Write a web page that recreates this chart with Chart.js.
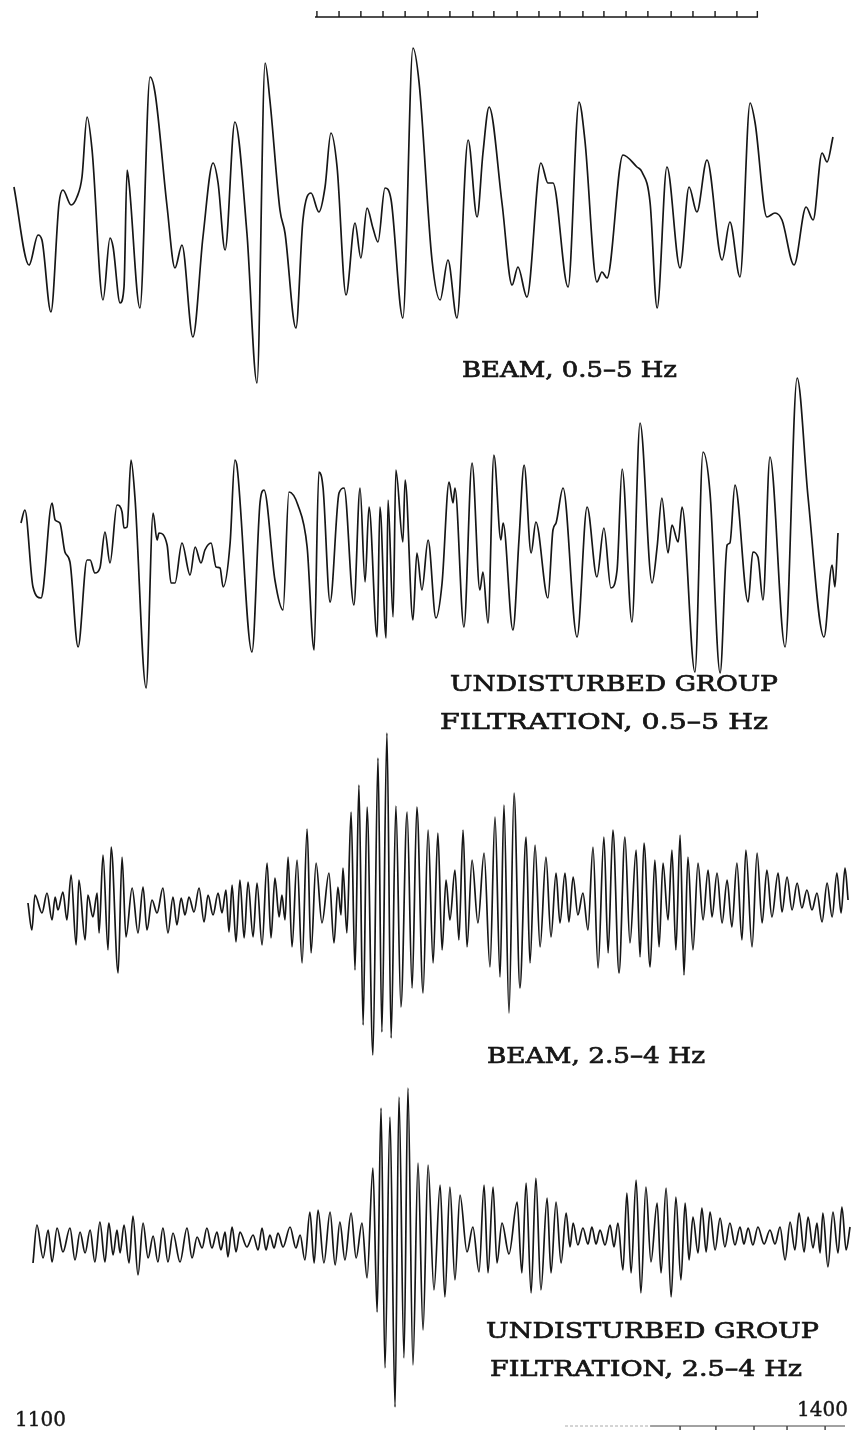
<!DOCTYPE html>
<html>
<head>
<meta charset="utf-8">
<style>
  html, body { margin: 0; padding: 0; background: #ffffff; }
  canvas { display: block; }
</style>
<script src="https://cdn.jsdelivr.net/npm/chart.js@4.4.1/dist/chart.umd.min.js"></script>
</head>
<body>
<canvas id="seis" width="856" height="1436"></canvas>
<script>
// Time axis: seconds, 1100 … 1400
const timeLabels = [1100, 1400];

// Each trace: [time (s), amplitude (relative units, up = positive)]
const beamBroad = [
  [1100.7,28],[1106.1,-50],[1109.3,-20],[1110.7,-25],[1113.9,-97],[1116.8,12],[1118.2,25],[1121.1,10],[1123.2,18],[1125.0,38],
  [1126.8,98],[1128.6,65],[1132.5,-85],[1135.0,-23],[1136.1,-32],[1138.6,-88],[1140.0,-72],[1141.1,45],[1141.8,32],[1145.7,-93],
  [1149.3,138],[1151.1,122],[1155.4,8],[1158.2,-53],[1160.7,-30],[1164.6,-122],[1168.2,-22],[1171.8,52],[1173.6,32],[1176.1,-35],
  [1179.6,93],[1183.9,-18],[1187.5,-168],[1190.4,152],[1192.1,115],[1195.7,5],[1197.5,-18],[1201.4,-113],[1203.9,-5],[1206.8,22],
  [1209.6,3],[1211.8,28],[1213.9,82],[1216.1,48],[1219.3,-80],[1222.5,-8],[1224.6,-43],[1226.8,7],[1228.9,-13],[1230.7,-27],
  [1233.2,27],[1235.4,15],[1239.6,-103],[1243.2,167],[1245.4,132],[1250.0,-45],[1252.9,-85],[1255.7,-45],[1258.9,-103],[1262.9,75],
  [1266.1,-2],[1268.2,62],[1270.4,108],[1275.0,12],[1278.6,-70],[1280.7,-52],[1283.9,-82],[1288.9,52],[1291.4,32],[1293.2,32],
  [1298.6,-72],[1302.5,113],[1304.6,75],[1308.9,-67],[1310.7,-57],[1312.5,-63],[1318.2,60],[1323.2,48],[1325.0,43],[1327.9,12],
  [1330.4,-93],[1333.9,48],[1338.6,-53],[1341.8,28],[1344.6,3],[1348.2,55],[1353.6,-45],[1356.4,-7],[1360.0,-62],[1363.6,112],
  [1365.4,92],[1369.6,-2],[1372.5,2],[1375.0,-5],[1379.3,-50],[1383.6,8],[1386.1,-5],[1389.3,62],[1391.1,53],[1393.2,78]
];

const groupBroad = [
  [1103.2,7],[1104.6,20],[1107.5,-57],[1110.4,-68],[1111.1,-60],[1114.3,27],[1115.4,10],[1117.1,7],[1118.9,-22],[1120.7,-32],
  [1123.6,-117],[1126.8,-30],[1127.9,-30],[1129.6,-43],[1131.4,-38],[1133.2,-2],[1135.0,-33],[1137.5,25],[1139.3,18],[1140.0,2],
  [1141.1,3],[1142.5,70],[1143.9,33],[1147.9,-158],[1150.4,17],[1151.8,-10],[1152.5,-3],[1155.4,-15],[1156.8,-53],[1158.2,-53],
  [1160.7,-13],[1163.6,-45],[1165.4,-17],[1167.5,-33],[1168.9,-20],[1171.1,-13],[1172.9,-37],[1174.3,-38],[1175.4,-57],[1177.9,-13],
  [1179.6,70],[1180.4,63],[1185.7,-122],[1188.6,28],[1190.0,40],[1193.9,-50],[1196.8,-80],[1198.9,38],[1202.1,25],[1205.4,-17],
  [1207.9,-120],[1209.6,58],[1211.1,42],[1213.6,-72],[1216.8,37],[1218.6,42],[1222.1,-75],[1224.3,42],[1226.1,-52],[1227.5,23],
  [1230.4,-107],[1231.4,23],[1233.6,-108],[1234.3,30],[1236.1,-87],[1237.1,60],[1239.6,-12],[1240.4,50],[1243.2,-90],[1244.6,-23],
  [1246.4,-60],[1248.6,-10],[1251.4,-88],[1253.6,-53],[1256.1,48],[1257.5,27],[1258.2,42],[1261.4,-97],[1264.3,67],[1267.1,-60],
  [1268.2,-42],[1270.0,-93],[1272.1,75],[1274.6,-10],[1275.4,7],[1278.9,-100],[1281.1,-8],[1282.9,65],[1285.4,-23],[1287.1,8],
  [1291.4,-68],[1293.2,0],[1294.3,7],[1296.8,42],[1301.8,-107],[1305.4,23],[1308.9,-47],[1311.4,2],[1313.9,-58],[1316.1,-40],
  [1317.9,61],[1321.4,-92],[1324.3,107],[1328.6,-53],[1330.4,-17],[1332.1,32],[1334.3,-23],[1335.7,5],[1337.9,-12],[1339.3,23],
  [1343.9,-142],[1346.8,78],[1349.3,37],[1352.9,-143],[1355.4,-15],[1356.4,-13],[1358.2,45],[1362.9,-72],[1364.6,-22],[1366.4,-27],
  [1368.2,-70],[1370.7,73],[1376.1,-117],[1380.4,152],[1384.3,33],[1390.0,-107],[1392.9,-35],[1393.9,-57],[1395.0,-3]
];

const beamNarrow = [
  [1105.7,2],[1107.1,-25],[1108.2,10],[1110.7,-8],[1112.5,12],[1114.3,-15],[1115.4,8],[1116.4,-5],[1118.2,13],[1119.6,-15],
  [1121.1,30],[1122.9,-40],[1123.9,25],[1126.1,-35],[1127.1,10],[1128.9,-12],[1130.4,12],[1131.1,-28],[1132.5,50],[1134.3,-45],
  [1135.4,58],[1137.9,-68],[1139.3,48],[1140.7,-32],[1142.9,17],[1145.0,-28],[1146.8,18],[1148.2,-25],[1150.0,5],[1151.8,-8],
  [1153.9,17],[1155.7,-28],[1157.5,8],[1158.9,-20],[1160.4,7],[1161.8,-10],[1163.2,8],[1165.0,-7],[1166.8,17],[1168.6,-17],
  [1170.0,10],[1171.8,-10],[1173.6,12],[1175.0,-8],[1176.4,15],[1177.5,-27],[1178.6,20],[1180.0,-37],[1181.4,25],[1182.9,-33],
  [1184.3,23],[1186.1,-32],[1187.5,22],[1189.3,-40],[1191.1,42],[1192.5,-33],[1193.9,27],[1195.4,-12],[1196.4,10],[1197.5,-15],
  [1198.6,48],[1200.0,-42],[1201.8,45],[1203.6,-58],[1205.4,76],[1206.8,-48],[1208.6,42],[1210.7,-18],[1213.2,32],[1215.0,-38],
  [1216.4,18],[1217.5,-10],[1218.2,37],[1219.6,-28],[1221.1,93],[1222.5,-65],[1223.9,120],[1225.4,-120],[1226.8,98],[1228.9,-150],
  [1230.7,147],[1232.1,-127],[1233.9,172],[1235.4,-133],[1237.1,99],[1238.9,-102],[1241.1,93],[1242.9,-83],[1244.6,98],[1246.8,-88],
  [1248.6,75],[1250.4,-58],[1252.1,72],[1253.6,-45],[1255.0,25],[1256.4,-15],[1258.2,35],[1259.6,-35],[1261.1,75],[1262.5,-42],
  [1264.3,45],[1266.4,-18],[1268.6,52],[1270.7,-62],[1272.5,88],[1274.3,-72],[1275.7,100],[1277.5,-108],[1279.3,112],[1281.4,-83],
  [1283.6,68],[1285.0,-58],[1286.8,60],[1288.6,-42],[1290.7,48],[1292.5,-32],[1294.3,32],[1295.7,-18],[1297.5,32],[1298.9,-17],
  [1300.4,28],[1302.1,-10],[1303.9,12],[1305.7,-25],[1307.5,58],[1309.3,-63],[1311.4,68],[1312.9,-48],[1314.6,75],[1316.8,-68],
  [1318.9,68],[1320.7,-38],[1322.9,55],[1324.3,-52],[1325.7,62],[1327.9,-62],[1329.6,45],[1331.1,-42],[1332.5,42],[1334.3,-15],
  [1335.7,55],[1337.1,-45],[1338.6,70],[1340.0,-70],[1341.4,48],[1343.2,-45],[1345.0,42],[1346.8,-15],[1348.6,35],[1350.0,-12],
  [1351.8,32],[1353.6,-18],[1355.4,25],[1357.1,-22],[1358.9,42],[1360.7,-35],[1362.1,55],[1364.3,-42],[1366.1,52],[1367.9,-18],
  [1369.6,35],[1371.4,-12],[1373.6,32],[1375.0,-7],[1376.8,28],[1378.6,-5],[1380.4,22],[1382.1,-3],[1383.9,15],[1385.7,-5],
  [1387.5,12],[1389.3,-17],[1391.1,22],[1392.9,-12],[1394.6,32],[1396.1,-8],[1397.5,37],[1398.6,5]
];

const groupNarrow = [
  [1107.5,-21],[1108.9,17],[1111.1,-16],[1112.9,12],[1114.3,-20],[1116.1,14],[1118.2,-10],[1120.7,14],[1122.5,-18],[1124.3,10],
  [1126.1,-11],[1127.9,12],[1129.6,-20],[1131.4,20],[1133.2,-20],[1134.6,19],[1136.1,-13],[1137.5,12],[1138.6,-11],[1140.0,17],
  [1141.8,-21],[1143.2,26],[1145.0,-33],[1146.8,19],[1148.6,-16],[1150.4,6],[1152.1,-20],[1153.9,14],[1155.7,-20],[1157.5,9],
  [1160.0,-20],[1162.5,14],[1164.3,-16],[1166.1,5],[1167.9,-6],[1169.6,14],[1171.4,-6],[1173.2,10],[1174.6,-8],[1176.1,10],
  [1177.1,-15],[1178.6,15],[1180.0,-10],[1181.4,10],[1183.9,-5],[1186.1,7],[1187.9,-8],[1189.3,14],[1190.7,-8],[1192.1,7],
  [1193.6,-6],[1195.0,9],[1196.8,-5],[1199.3,15],[1201.4,-6],[1202.9,7],[1204.6,-18],[1206.4,30],[1207.9,-21],[1209.3,32],
  [1211.4,-21],[1213.6,30],[1215.4,-23],[1217.1,20],[1218.9,-18],[1221.1,29],[1222.9,-16],[1225.0,19],[1226.8,-36],[1228.9,74],
  [1230.4,-70],[1231.8,134],[1233.2,-126],[1235.0,125],[1236.8,-165],[1238.2,145],[1240.0,-116],[1241.4,154],[1243.2,-123],[1245.0,79],
  [1246.8,-88],[1248.6,77],[1250.7,-48],[1252.9,57],[1254.6,-55],[1256.4,55],[1258.2,-38],[1260.0,47],[1262.5,-10],[1264.6,15],
  [1266.8,-30],[1268.6,57],[1270.0,-31],[1271.8,55],[1273.2,-21],[1275.0,19],[1277.5,-12],[1280.4,40],[1282.1,-31],[1283.6,59],
  [1285.4,-51],[1287.1,64],[1288.9,-48],[1291.1,44],[1292.5,-31],[1294.3,40],[1296.1,-21],[1297.9,29],[1299.3,-5],[1300.4,19],
  [1302.1,-3],[1303.9,14],[1305.7,-2],[1307.1,15],[1308.6,-2],[1310.0,12],[1311.8,-3],[1313.6,17],[1315.0,-5],[1316.4,19],
  [1318.2,-28],[1319.6,49],[1321.1,-31],[1322.9,62],[1324.6,-51],[1326.4,55],[1328.2,-20],[1330.4,39],[1331.8,-31],[1333.6,54],
  [1335.4,-55],[1337.1,45],[1338.9,-38],[1340.4,39],[1341.8,-18],[1343.2,25],[1345.0,-11],[1346.4,34],[1347.9,-10],[1349.3,30],
  [1351.1,-8],[1352.9,24],[1354.6,-5],[1356.4,19],[1358.2,-3],[1360.0,15],[1361.4,-2],[1362.9,14],[1364.6,-3],[1366.4,15],
  [1368.6,-2],[1370.7,12],[1372.5,-2],[1374.3,15],[1376.1,-18],[1377.9,20],[1379.6,-8],[1381.1,29],[1382.9,-10],[1384.3,25],
  [1386.1,-6],[1387.5,19],[1388.6,-11],[1389.6,29],[1391.4,-25],[1393.2,30],[1395.0,-11],[1396.4,35],[1397.9,-8],[1399.3,15]
];

// Timing marks above the first trace and the scale bar at the foot
const topMarks = [1208.9,1216.8,1224.6,1232.5,1240.4,1248.6,1256.4,1264.6,1272.1,1280.4,1288.2,
                  1295.7,1303.9,1311.4,1319.3,1327.1,1335.4,1343.2,1351.1,1358.9,1366.1];
const footMarks = [1338.6,1351.4,1365.0,1376.8,1390.4];

const captions = [
  { text: 'BEAM, 0.5\u20135 Hz',        x: 462, y: 377,  w: 215 },
  { text: 'UNDISTURBED GROUP',          x: 450, y: 691,  w: 328 },
  { text: 'FILTRATION, 0.5\u20135 Hz',  x: 440, y: 729,  w: 328 },
  { text: 'BEAM, 2.5\u20134 Hz',        x: 487, y: 1063, w: 218 },
  { text: 'UNDISTURBED GROUP',          x: 486, y: 1338, w: 333 },
  { text: 'FILTRATION, 2.5\u20134 Hz',  x: 490, y: 1376, w: 312 }
];

const INK = '#161616';
const H = 1436;

function toPoints(pairs) { return pairs.map(p => ({ x: p[0], y: p[1] })); }

// Baseline with upward (len > 0) or downward (len < 0) ticks
function markPath(marks, from, to, len) {
  const pts = [{ x: from, y: 0 }];
  marks.forEach(t => { pts.push({ x: t, y: 0 }, { x: t, y: len }, { x: t, y: 0 }); });
  pts.push({ x: to, y: 0 });
  return pts;
}

// A hidden y axis whose zero sits `base` pixels below the top (1 unit = 1 px)
function band(base) { return { display: false, min: base - H, max: base }; }

function trace(pairs, axis) {
  return {
    data: toPoints(pairs), yAxisID: axis,
    borderColor: INK, borderWidth: 1.7, pointRadius: 0,
    cubicInterpolationMode: 'monotone', fill: false
  };
}

const captionPlugin = {
  id: 'captions',
  afterDatasetsDraw(chart) {
    const ctx = chart.ctx;
    ctx.save();
    ctx.fillStyle = INK;
    ctx.strokeStyle = INK;
    ctx.lineWidth = 0.7;
    ctx.textBaseline = 'alphabetic';
    ctx.font = '23px "DejaVu Serif"';
    captions.forEach(c => {
      const mw = ctx.measureText(c.text).width;
      ctx.save();
      ctx.translate(c.x, c.y);
      ctx.scale(c.w / mw, 1);
      ctx.fillText(c.text, 0, 0);
      ctx.strokeText(c.text, 0, 0);
      ctx.restore();
    });
    const xs = chart.scales.x;
    ctx.font = '20px "DejaVu Serif"';
    ctx.lineWidth = 0.4;
    ctx.textAlign = 'left';
    const l = String(timeLabels[0]), r = String(timeLabels[1]);
    ctx.fillText(l, xs.getPixelForValue(timeLabels[0]) + 3, 1426);
    ctx.strokeText(l, xs.getPixelForValue(timeLabels[0]) + 3, 1426);
    ctx.textAlign = 'right';
    ctx.fillText(r, xs.getPixelForValue(timeLabels[1]) - 4, 1416);
    ctx.strokeText(r, xs.getPixelForValue(timeLabels[1]) - 4, 1416);
    ctx.restore();
  }
};

new Chart(document.getElementById('seis'), {
  type: 'line',
  data: {
    datasets: [
      trace(beamBroad, 'y1'),
      trace(groupBroad, 'y2'),
      trace(beamNarrow, 'y3'),
      trace(groupNarrow, 'y4'),
      { data: markPath(topMarks, 1208.2, 1366.4, 6), yAxisID: 'yTop',
        borderColor: INK, borderWidth: 1.4, pointRadius: 0, tension: 0 },
      { data: markPath(footMarks, 1327.9, 1397.5, -4), yAxisID: 'yFoot',
        borderColor: '#444', borderWidth: 1, pointRadius: 0, tension: 0 },
      { data: [{ x: 1297.5, y: 0 }, { x: 1327.9, y: 0 }], yAxisID: 'yFoot',
        borderColor: '#aaa', borderWidth: 1, borderDash: [3, 2], pointRadius: 0, tension: 0 }
    ]
  },
  options: {
    responsive: false,
    animation: false,
    devicePixelRatio: 1,
    layout: { padding: { left: 12, right: 4, top: 0, bottom: 0 } },
    plugins: { legend: { display: false }, tooltip: { enabled: false }, title: { display: false } },
    scales: {
      x: { type: 'linear', display: false, min: timeLabels[0], max: timeLabels[1] },
      y1: band(215),
      y2: band(530),
      y3: band(905),
      y4: band(1242),
      yTop: band(17),
      yFoot: band(1426)
    }
  },
  plugins: [captionPlugin]
});
</script>
</body>
</html>
